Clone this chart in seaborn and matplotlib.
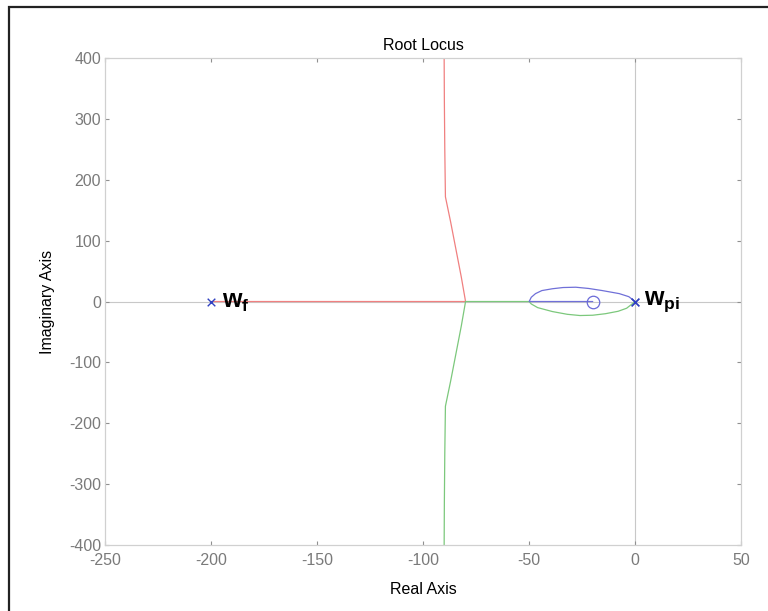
"""Root locus chart recreated with seaborn."""

import matplotlib

matplotlib.use("Agg")
import matplotlib.pyplot as plt
import pandas as pd
import seaborn as sns
from matplotlib.patches import Rectangle

# branch from pole at -200 (red): along real axis, then up the asymptote
red_re = [-200, -80, -82, -84.5, -87, -89.5, -89.8, -90, -90.1]
red_im = [0, 0, 40, 85, 130, 172, 250, 330, 400]

# green: lower asymptote, real-axis segment -80..-50, lower lobe to 0
green_re = [-90.1, -90, -89.8, -89.5, -87, -84.5, -82, -80, -50,
            -49, -46, -39, -32, -26, -20, -14, -8, -4, 0]
green_im = [-400, -330, -250, -172, -130, -85, -40, 0, 0,
            -4, -10, -16.5, -21, -23, -22.5, -20, -16, -11, 0]

# blue: upper lobe from 0 to -50, then real axis to zero at -20
blue_re = [0, -3, -7.5, -15.5, -22, -28, -34, -39, -44, -47, -49, -50, -20]
blue_im = [0, 8, 13, 18, 21.5, 23.5, 23, 21, 18, 13, 7, 0, 0]

pole_re = [-200, 0, 0]
pole_im = [0, 0, 0]
zero_re = [-20]
zero_im = [0]

x_ticks = [-250, -200, -150, -100, -50, 0, 50]
y_ticks = [-400, -300, -200, -100, 0, 100, 200, 300, 400]

sns.set_theme(style="white")
plt.rcParams["font.family"] = ["Liberation Sans", "DejaVu Sans"]
plt.rcParams["axes.unicode_minus"] = False
plt.rcParams["mathtext.fontset"] = "custom"
plt.rcParams["mathtext.bf"] = "Liberation Sans:bold"
plt.rcParams["mathtext.rm"] = "Liberation Sans"

fig = plt.figure(figsize=(7.68, 6.11), dpi=100)
ax = fig.add_axes([0.137, 0.108, 0.828, 0.797])

# light grey reference lines through origin
ax.axhline(0, color="#c8c8c8", lw=0.8, zorder=0)
ax.axvline(0, color="#c8c8c8", lw=0.8, zorder=0)

branches = [
    (red_re, red_im, "#f08080"),
    (green_re, green_im, "#7cc87c"),
    (blue_re, blue_im, "#7070d8"),
]
for re, im, col in branches:
    df = pd.DataFrame({"re": re, "im": im})
    sns.lineplot(data=df, x="re", y="im", sort=False, estimator=None,
                 color=col, lw=0.9, ax=ax)

poles = pd.DataFrame({"re": pole_re, "im": pole_im})
sns.scatterplot(data=poles, x="re", y="im", marker="x", s=30,
                color="#3040c0", linewidth=1.0, ax=ax, zorder=5)
ax.plot(zero_re, zero_im, marker="o", ms=9, mfc="none", mec="#6a6ad8",
        mew=0.9, ls="none", zorder=5)

ax.text(-195, -1, r"$\mathbf{w}_{\mathbf{f}}$", fontsize=18,
        va="center", ha="left", color="black")
ax.text(4, -1, r"$\mathbf{w}_{\mathbf{pi}}$", fontsize=18,
        va="center", ha="left", color="black")

ax.set_xlim(-250, 50)
ax.set_ylim(-400, 400)
ax.set_xticks(x_ticks)
ax.set_yticks(y_ticks)
ax.tick_params(direction="in", length=3, width=0.8, color="#909090",
               labelcolor="#7a7a7a", labelsize=11.5, top=True, right=True,
               bottom=True, left=True)
ax.tick_params(axis="x", pad=6)
ax.tick_params(axis="y", pad=3)
for sp in ax.spines.values():
    sp.set_color("#d0d0d0")
    sp.set_linewidth(0.9)

ax.set_title("Root Locus", fontsize=11.5, color="black", pad=6)
ax.set_xlabel("Real Axis", fontsize=11.5, color="black", labelpad=10)
ax.set_ylabel("Imaginary Axis", fontsize=11.5, color="black", labelpad=10)

# black frame around the figure, partially cut at right and bottom
fig.patches.append(Rectangle((0.012, -0.01), 1.0, 0.999, transform=fig.transFigure,
                             fill=False, ec="#222222", lw=1.6))

fig.savefig("out.png", dpi=100)
